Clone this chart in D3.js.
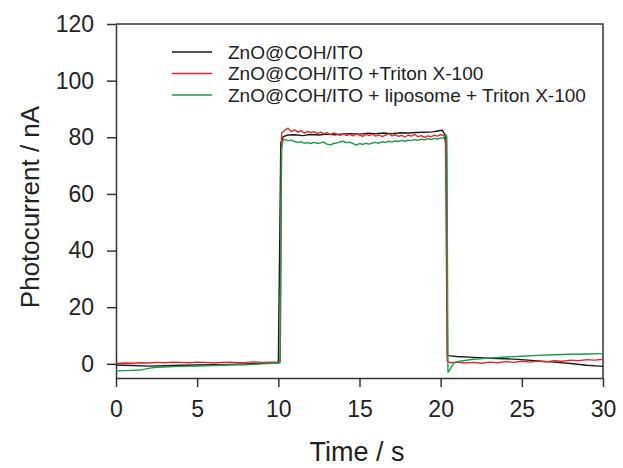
<!DOCTYPE html>
<html>
<head>
<meta charset="utf-8">
<script src="https://cdn.jsdelivr.net/npm/d3@7"></script>
<style>
  body { margin: 0; background: #fff; }
  text { font-family: "Liberation Sans", Arial, sans-serif; fill: #222; }
</style>
</head>
<body>
<div id="chart"></div>
<script>
// tick labels
var xTicks = [0, 5, 10, 15, 20, 25, 30];
var yTicks = [0, 20, 40, 60, 80, 100, 120];

var seriesNames = ["ZnO@COH/ITO", "ZnO@COH/ITO +Triton X-100", "ZnO@COH/ITO + liposome + Triton X-100"];
var seriesColors = ["#1b1b1b", "#e3262d", "#1c9a4e"];

// ZnO@COH/ITO
var blackTime = [0, 1, 2, 3, 4, 5, 6, 7, 8, 9, 9.8, 10.0, 10.08, 10.15, 10.3, 10.6, 11, 11.5, 12, 12.5, 13, 13.5, 14, 14.5, 15, 15.5, 16, 16.5, 17, 17.5, 18, 18.5, 19, 19.5, 19.9, 20.1, 20.25, 20.35, 20.42, 20.6, 21, 22, 23, 24, 25, 26, 27, 28, 29, 30];
var blackCurrent = [-0.4, -0.6, -0.8, -0.7, -0.5, -0.4, -0.3, -0.2, 0, 0.2, 0.3, 0.4, 40, 78, 80.2, 80.8, 80.9, 80.6, 81.0, 80.8, 81.1, 80.9, 81.2, 81.3, 81.1, 81.4, 81.3, 81.5, 81.3, 81.6, 81.5, 81.7, 81.8, 81.9, 82.3, 82.5, 81.0, 78.0, 2.9, 2.8, 2.6, 2.3, 2.0, 1.8, 1.5, 1.0, 0.6, 0.1, -0.5, -0.9];

// ZnO@COH/ITO +Triton X-100
var redTime = [0, 0.5, 1, 1.5, 2, 2.5, 3, 3.5, 4, 4.5, 5, 5.5, 6, 6.5, 7, 7.5, 8, 8.5, 9, 9.5, 10, 10.12, 10.2,
  10.4, 10.6, 10.8, 11.0, 11.2, 11.4, 11.6, 11.8, 12.0, 12.2, 12.4, 12.6, 12.8, 13.0, 13.2, 13.4, 13.6, 13.8,
  14.0, 14.2, 14.4, 14.6, 14.8, 15.0, 15.2, 15.4, 15.6, 15.8, 16.0, 16.2, 16.4, 16.6, 16.8, 17.0, 17.2, 17.4,
  17.6, 17.8, 18.0, 18.2, 18.4, 18.6, 18.8, 19.0, 19.2, 19.4, 19.6, 19.8, 20.0, 20.2, 20.3, 20.4, 20.6,
  21, 21.5, 22, 22.5, 23, 23.5, 24, 24.5, 25, 25.5, 26, 26.5, 27, 27.5, 28, 28.5, 29, 29.5, 30];
var redCurrent = [0.1, 0.3, 0.2, 0.4, 0.3, 0.5, 0.4, 0.6, 0.5, 0.4, 0.6, 0.5, 0.3, 0.5, 0.6, 0.4, 0.5, 0.7, 0.5, 0.6, 0.7, 1.0, 81.5,
  82.5, 83.2, 82.0, 82.6, 81.8, 82.3, 81.5, 82.1, 81.7, 82.0, 81.3, 81.8, 81.2, 81.6, 80.9, 81.5, 81.1, 80.7,
  81.3, 80.6, 81.0, 80.5, 81.2, 80.8, 80.3, 81.0, 80.6, 81.1, 80.4, 80.9, 80.2, 80.8, 81.3, 80.5, 80.9, 80.3,
  80.7, 80.1, 80.8, 80.4, 81.0, 80.2, 80.6, 80.0, 80.5, 80.2, 80.7, 80.4, 80.9, 80.6, 78.0, 1.0, 0.4,
  0.6, 0.3, 0.5, 0.2, 0.6, 0.4, 0.8, 0.5, 0.9, 0.6, 1.0, 0.7, 1.1, 0.9, 1.3, 1.1, 1.5, 1.3, 1.6];

// ZnO@COH/ITO + liposome + Triton X-100
var greenTime = [0, 0.5, 1, 1.5, 2, 2.5, 3, 3.5, 4, 5, 6, 7, 8, 9, 9.8, 10.1, 10.2, 10.3,
  10.4, 10.6, 10.8, 11.0, 11.2, 11.4, 11.6, 11.8, 12.0, 12.2, 12.4, 12.6, 12.8, 13.0, 13.2, 13.4, 13.6, 13.8,
  14.0, 14.2, 14.4, 14.6, 14.8, 15.0, 15.2, 15.4, 15.6, 15.8, 16.0, 16.2, 16.4, 16.6, 16.8, 17.0, 17.2, 17.4,
  17.6, 17.8, 18.0, 18.2, 18.4, 18.6, 18.8, 19.0, 19.2, 19.4, 19.6, 19.8, 20.0, 20.2, 20.3, 20.38, 20.45, 20.6,
  20.8, 21, 21.5, 22, 23, 24, 25, 26, 27, 28, 29, 30];
var greenCurrent = [-2.5, -2.4, -2.3, -2.2, -1.6, -1.2, -1.1, -1.0, -0.9, -0.8, -0.6, -0.4, -0.3, 0, 0.2, 0.3, 76, 79.2,
  79.2, 78.8, 79.0, 78.5, 78.2, 78.4, 77.9, 78.1, 77.8, 78.2, 77.9, 78.0, 78.3, 77.6, 77.3, 77.8, 78.0, 78.4,
  78.6, 78.1, 78.3, 77.8, 77.2, 77.8, 77.5, 77.9, 77.6, 78.0, 78.2, 77.9, 78.4, 78.2, 78.6, 78.3, 78.7, 78.5,
  78.9, 78.6, 79.0, 78.8, 79.2, 78.9, 79.3, 79.1, 79.5, 79.2, 79.6, 79.4, 79.8, 79.6, 81.0, 80.5, -3.0, -1.8,
  0.2, 0.8, 1.2, 1.6, 2.0, 2.4, 2.7, 3.0, 3.2, 3.4, 3.5, 3.6];

var svgWidth = 623;
var svgHeight = 468;
var margin = { top: 24, right: 20, bottom: 90, left: 116 };
var width = 603 - margin.left;
var height = 378 - margin.top;

var svg = d3.select("#chart")
    .append("svg")
    .attr("width", svgWidth)
    .attr("height", svgHeight);

var chartGroup = svg.append("g")
    .attr("transform", `translate(${margin.left}, ${margin.top})`);

var xScale = d3.scaleLinear().domain([0, 30]).range([0, width]);
var yScale = d3.scaleLinear().domain([-5, 120]).range([height, 0]);

// frame on top and right
chartGroup.append("path")
    .attr("d", `M0,0H${width}V${height}`)
    .attr("fill", "none")
    .attr("stroke", "#333")
    .attr("stroke-width", 1.5);

var xAxis = d3.axisBottom(xScale).tickValues(xTicks).tickSize(9).tickSizeOuter(0).tickPadding(14);
var yAxis = d3.axisLeft(yScale).tickValues(yTicks).tickSize(9).tickSizeOuter(0).tickPadding(13);

var xg = chartGroup.append("g")
    .attr("transform", `translate(0, ${height})`)
    .call(xAxis);
var yg = chartGroup.append("g").call(yAxis);

[xg, yg].forEach(function (g) {
    g.selectAll("path, line").attr("stroke", "#333").attr("stroke-width", 1.5);
    g.selectAll("text").style("font-size", "23px").attr("fill", "#222");
});

// traces
var line = d3.line()
    .x(d => xScale(d[0]))
    .y(d => yScale(d[1]));

var traces = [
    d3.zip(blackTime, blackCurrent),
    d3.zip(redTime, redCurrent),
    d3.zip(greenTime, greenCurrent)
];

traces.forEach(function (data, i) {
    chartGroup.append("path")
        .datum(data)
        .attr("fill", "none")
        .attr("stroke", seriesColors[i])
        .attr("stroke-width", 1.4)
        .attr("stroke-linejoin", "round")
        .attr("d", line);
});

// legend
var legend = svg.append("g").attr("transform", "translate(172, 52)");
seriesNames.forEach(function (name, i) {
    var row = legend.append("g").attr("transform", `translate(0, ${i * 21.5})`);
    row.append("line")
        .attr("x1", 0).attr("x2", 40)
        .attr("stroke", seriesColors[i])
        .attr("stroke-width", 1.5);
    row.append("text")
        .attr("x", 56)
        .attr("dy", "0.35em")
        .style("font-size", "19px")
        .text(name);
});

// axis titles
svg.append("text")
    .attr("transform", "rotate(-90)")
    .attr("x", -207)
    .attr("y", 39)
    .attr("text-anchor", "middle")
    .style("font-size", "26px")
    .text("Photocurrent / nA");

svg.append("text")
    .attr("x", 357)
    .attr("y", 461)
    .attr("text-anchor", "middle")
    .style("font-size", "27px")
    .text("Time / s");
</script>
</body>
</html>
